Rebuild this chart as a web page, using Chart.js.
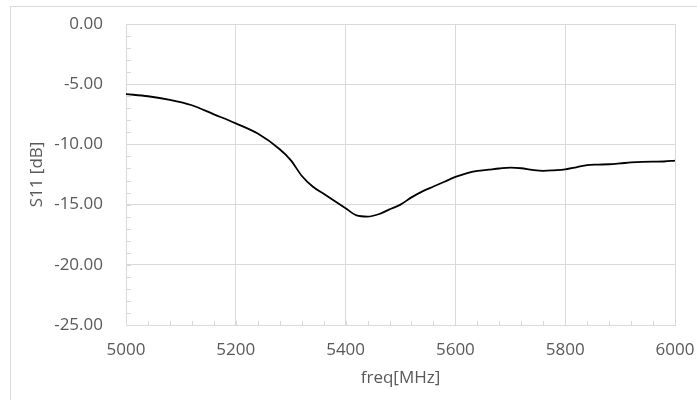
<!DOCTYPE html>
<html>
<head>
<meta charset="utf-8">
<script src="https://cdn.jsdelivr.net/npm/chart.js@4"></script>
<style>
  html, body { margin: 0; padding: 0; background: #ffffff; }
  #wrap { width: 697px; height: 400px; }
</style>
</head>
<body>
<div id="wrap"><canvas id="myChart" width="697" height="400"></canvas></div>
<script>
const freq = [5000, 5040, 5080, 5120, 5160, 5200, 5240, 5280, 5300, 5320, 5340, 5360, 5380, 5400,
  5420, 5440, 5460, 5480, 5500, 5520, 5540, 5560, 5580, 5600, 5620, 5640, 5660, 5680, 5700,
  5720, 5740, 5760, 5780, 5800, 5820, 5840, 5860, 5880, 5900, 5920, 5940, 5960, 5980, 6000];
const s11 = [-5.82, -6.0, -6.3, -6.75, -7.5, -8.25, -9.1, -10.4, -11.3, -12.6, -13.5, -14.1, -14.7, -15.3,
  -15.9, -16.0, -15.8, -15.4, -15.0, -14.4, -13.9, -13.5, -13.1, -12.7, -12.4, -12.2, -12.1, -12.0, -11.93,
  -11.98, -12.12, -12.2, -12.15, -12.07, -11.9, -11.72, -11.68, -11.65, -11.58, -11.5, -11.45, -11.43, -11.42, -11.35];

const gridColor = "#d9d9d9";
const textColor = "#595959";
const fontFamily = "'Open Sans', sans-serif";

// excel style frame + inside minor ticks
const excelBits = {
  id: "excelBits",
  beforeDraw(chart) {
    const c = chart.ctx;
    c.save();
    c.strokeStyle = gridColor;
    c.lineWidth = 1;
    c.strokeRect(10.5, 6.5, 720, 420);
    c.restore();
  },
  afterDatasetsDraw(chart) {
    const c = chart.ctx;
    const x = chart.scales.x;
    const y = chart.scales.y;
    c.save();
    c.strokeStyle = gridColor;
    c.lineWidth = 1;
    c.beginPath();
    for (let v = -25; v <= 0; v += 1) {
      const py = Math.round(y.getPixelForValue(v)) + 0.5;
      c.moveTo(x.left, py);
      c.lineTo(x.left + 5, py);
    }
    for (let f = 5000; f <= 6000; f += 40) {
      const px = Math.round(x.getPixelForValue(f)) + 0.5;
      c.moveTo(px, y.bottom);
      c.lineTo(px, y.bottom - 4);
    }
    c.stroke();
    c.restore();
  },
};

function noPad(scale) {
  scale.paddingLeft = 0;
  scale.paddingRight = 0;
  scale.paddingTop = 0;
  scale.paddingBottom = 0;
}

const ctx = document.getElementById("myChart");

new Chart(ctx, {
  type: "line",
  data: {
    datasets: [
      {
        label: "S11",
        data: freq.map((f, i) => ({ x: f, y: s11[i] })),
        borderColor: "#000000",
        borderWidth: 1.8,
        pointRadius: 0,
        cubicInterpolationMode: "monotone",
        fill: false,
      },
    ],
  },
  options: {
    responsive: false,
    animation: false,
    layout: {
      padding: { left: 0, top: 24, right: 22, bottom: 0 },
    },
    plugins: {
      legend: { display: false },
      tooltip: { enabled: false },
    },
    scales: {
      x: {
        type: "linear",
        min: 5000,
        max: 6000,
        afterFit(scale) {
          scale.height = 75;
          noPad(scale);
        },
        ticks: {
          stepSize: 200,
          padding: 15,
          color: textColor,
          font: { family: fontFamily, size: 17 },
          maxRotation: 0,
          callback: (v) => String(v),
        },
        grid: {
          color: gridColor,
          drawTicks: false,
        },
        border: { color: gridColor },
        title: {
          display: true,
          text: "freq[MHz]",
          color: textColor,
          font: { family: fontFamily, size: 17 },
          padding: { top: 0, bottom: 12 },
        },
      },
      y: {
        min: -25,
        max: 0,
        afterFit(scale) {
          scale.width = 126;
          noPad(scale);
        },
        ticks: {
          stepSize: 5,
          padding: 23,
          color: textColor,
          font: { family: fontFamily, size: 17 },
          callback: (v) => v.toFixed(2),
        },
        grid: {
          color: gridColor,
          drawTicks: false,
        },
        border: { color: gridColor },
        title: {
          display: true,
          text: "S11 [dB]",
          color: textColor,
          font: { family: fontFamily, size: 17 },
          padding: { top: 27, bottom: 0 },
        },
      },
    },
  },
  plugins: [excelBits],
});
</script>
</body>
</html>
